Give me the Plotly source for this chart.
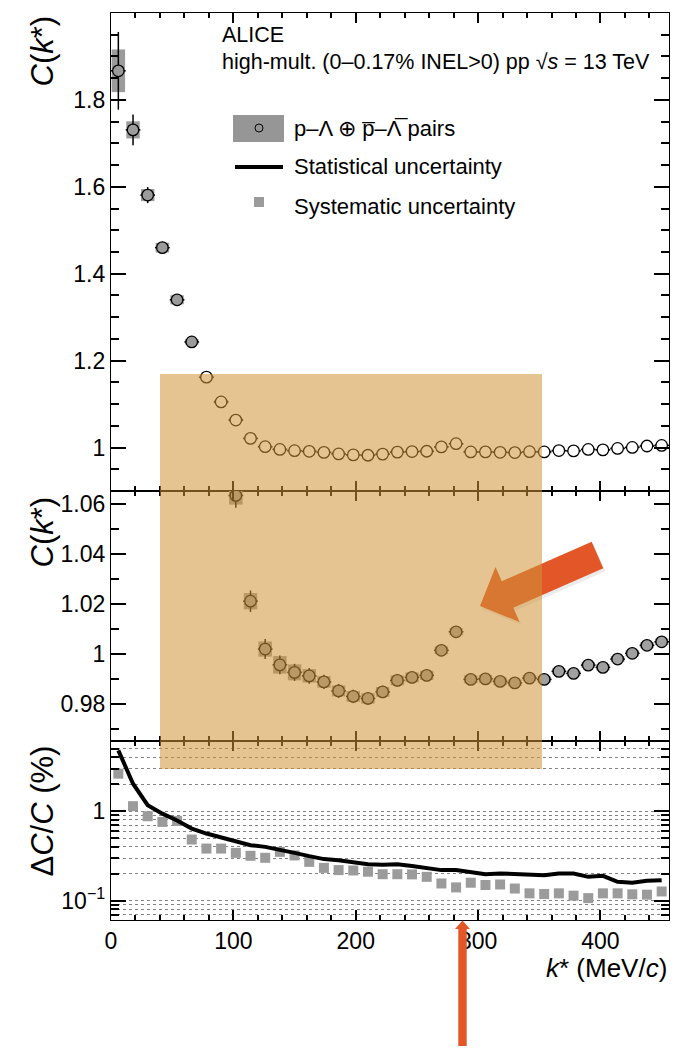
import plotly.graph_objects as go

# ---------------- data ----------------
kstar = [6, 18, 30, 42, 54, 66, 78, 90, 102, 114, 126, 138, 150, 162, 174, 186, 198, 210, 222,
         234, 246, 258, 270, 282, 294, 306, 318, 330, 342, 354, 366, 378, 390, 402, 414, 426, 438, 450]
ck = [1.867, 1.731, 1.581, 1.460, 1.340, 1.243, 1.162, 1.105, 1.0633, 1.0211, 1.0020, 0.9957,
      0.9927, 0.9913, 0.9889, 0.9853, 0.9831, 0.9823, 0.9849, 0.9895, 0.9907, 0.9915, 1.0015,
      1.0089, 0.9899, 0.9901, 0.9891, 0.9885, 0.9904, 0.9899, 0.9931, 0.9923, 0.9956, 0.9947,
      0.9980, 1.0003, 1.0035, 1.0049]
stat_pct = [4.79, 2.03, 1.17, 0.94, 0.79, 0.641, 0.564, 0.508, 0.455, 0.418, 0.400, 0.374, 0.343,
            0.315, 0.292, 0.284, 0.272, 0.256, 0.252, 0.256, 0.244, 0.230, 0.220, 0.220, 0.207,
            0.198, 0.202, 0.198, 0.197, 0.193, 0.202, 0.202, 0.185, 0.190, 0.163, 0.159, 0.167, 0.170]
syst_pct = [2.63, 1.14, 0.88, 0.76, 0.78, 0.483, 0.383, 0.383, 0.343, 0.318, 0.302, 0.352, 0.321,
            0.272, 0.233, 0.220, 0.218, 0.211, 0.198, 0.198, 0.197, 0.185, 0.156, 0.141, 0.159,
            0.150, 0.152, 0.137, 0.121, 0.119, 0.121, 0.114, 0.107, 0.121, 0.121, 0.118, 0.117, 0.127]
bin_half = 6          # half bin width (MeV/c)
box_width = 11        # width of systematic boxes (MeV/c)

stat_abs = [c * s / 100 for c, s in zip(ck, stat_pct)]
syst_abs = [c * s / 100 for c, s in zip(ck, syst_pct)]

# ---------------- geometry (screen pixels; the page body adds an 8px offset) ----------------
OFF = 8
SW, SH = 679, 1050
PL, PR, PT, PB = 111, 669, 13, 920          # plot area on screen
W, H = SW - OFF, SH - OFF
ML, MT = PL - OFF, PT - OFF
MR, MB = W - (PR - OFF), H - (PB - OFF)
PW, PH = PR - PL, PB - PT


def px(x):
    return (x - PL) / PW


def py(y):
    return (PB - y) / PH


FONT = "Liberation Sans"
GRAY = "rgb(155,155,155)"
ORANGE = "rgb(226,86,40)"

fig = go.Figure()

# ---------------- top & middle panels ----------------
for ax, fill in (("", None), ("2", "rgb(160,160,160)")):
    fig.add_trace(go.Bar(x=kstar, y=[2 * s for s in syst_abs],
                         base=[c - s for c, s in zip(ck, syst_abs)],
                         width=box_width, marker=dict(color=GRAY, line=dict(width=0)),
                         xaxis="x" + ax, yaxis="y" + ax, showlegend=False, hoverinfo="skip"))
    if fill is None:
        # open marker: the grey box shows through where it is larger than the marker
        fills = [GRAY if s > 0.0055 else "white" for s in syst_abs]
    else:
        fills = fill
    fig.add_trace(go.Scatter(x=kstar, y=ck, mode="markers",
                             marker=dict(symbol="circle", size=11.5, color=fills,
                                         line=dict(color="black", width=1.3)),
                             error_y=dict(type="data", array=stat_abs, color="black",
                                          thickness=1.5, width=0),
                             error_x=dict(type="constant", value=bin_half, color="black",
                                          thickness=1.5, width=0),
                             xaxis="x" + ax, yaxis="y" + ax, showlegend=False))

# ---------------- bottom panel ----------------
fig.add_trace(go.Scatter(x=kstar, y=syst_pct, mode="markers",
                         marker=dict(symbol="square", size=10, color=GRAY, line=dict(width=0)),
                         xaxis="x3", yaxis="y3", showlegend=False))
fig.add_trace(go.Scatter(x=kstar, y=stat_pct, mode="lines",
                         line=dict(color="black", width=4),
                         xaxis="x3", yaxis="y3", showlegend=False))

# ---------------- axes ----------------
tickfont = dict(family=FONT, size=23, color="black")
LW = 1.3
xcommon = dict(range=[0, 456], ticks="inside", ticklen=10, tickwidth=1.5, tickcolor="black",
               dtick=100, tick0=0, showline=True, linecolor="black", linewidth=LW,
               mirror="allticks", showgrid=False, zeroline=False,
               minor=dict(ticks="inside", ticklen=5, dtick=20, tickcolor="black", tickwidth=1.5),
               tickfont=tickfont)
ycommon = dict(ticks="inside", ticklen=15, tickwidth=1.5, tickcolor="black", showline=True,
               linecolor="black", linewidth=LW, mirror="allticks", showgrid=False,
               zeroline=False, tickfont=tickfont)

d_top = py(491)
d_mid = py(741)

minor_vals = [0.07, 0.08, 0.09, 0.2, 0.3, 0.4, 0.5, 0.6, 0.7, 0.8, 0.9, 2, 3, 4, 5, 6]
GRID = "rgb(130,130,130)"

fig.update_layout(
    width=W, height=H, margin=dict(l=ML, r=MR, t=MT, b=MB, autoexpand=False),
    paper_bgcolor="white", plot_bgcolor="white", barmode="overlay",
    font=dict(family=FONT, color="black"),
    xaxis=dict(anchor="y", showticklabels=False, **xcommon),
    xaxis2=dict(anchor="y2", showticklabels=False, matches="x", **xcommon),
    xaxis3=dict(anchor="y3", showticklabels=True, matches="x", **xcommon),
    yaxis=dict(domain=[d_top, 1], range=[0.9, 2.0], dtick=0.2, tick0=0,
               minor=dict(ticks="inside", ticklen=8, dtick=0.05, tickcolor="black", tickwidth=1.5),
               **ycommon),
    yaxis2=dict(domain=[d_mid, d_top], range=[0.9653, 1.0651], dtick=0.02, tick0=0,
                minor=dict(ticks="inside", ticklen=8, dtick=0.01, tickcolor="black", tickwidth=1.5),
                **ycommon),
    yaxis3=dict(domain=[0, d_mid], type="log", range=[-1.215, 0.785],
                tickmode="array", tickvals=[0.1, 1], ticktext=["10<sup>\u22121</sup>", "1"],
                ticks="inside", ticklen=15, tickwidth=1.5, tickcolor="black", showline=True,
                linecolor="black", linewidth=LW, mirror="allticks", zeroline=False,
                showgrid=True, gridcolor=GRID, griddash="dot", gridwidth=1,
                minor=dict(tickmode="array", tickvals=minor_vals, ticks="inside", ticklen=8,
                           tickcolor="black", tickwidth=1.5, showgrid=True,
                           gridcolor=GRID, griddash="dot", gridwidth=1),
                tickfont=tickfont),
)

# ---------------- texts ----------------
ann = []


def text(x, y, s, size, xanchor="left", yanchor="middle", angle=0):
    ann.append(dict(x=px(x), y=py(y), xref="paper", yref="paper", text=s, showarrow=False,
                    xanchor=xanchor, yanchor=yanchor, textangle=angle,
                    font=dict(family=FONT, size=size, color="black")))


text(42, 14, "<i>C</i>(<i>k</i>*)", 31, xanchor="center", yanchor="top", angle=-90)
text(42, 495, "<i>C</i>(<i>k</i>*)", 31, xanchor="center", yanchor="top", angle=-90)
text(42, 744, "\u0394<i>C</i>/<i>C</i> (%)", 31, xanchor="center", yanchor="top", angle=-90)
text(669, 968, "<i>k</i>* (MeV/<i>c</i>)", 26, xanchor="right")
text(220, 35, "ALICE", 21.5)
text(220, 62, "high-mult. (0\u20130.17% INEL>0) pp \u221A<i>s</i> = 13 TeV", 21.5)
text(292, 128, "p\u2013\u039B \u2295 p\u0305\u2013\u039B\u0305 pairs", 22)
text(292, 167, "Statistical uncertainty", 22)
text(292, 206, "Systematic uncertainty", 22)
fig.update_layout(annotations=ann)

# ---------------- shapes (legend symbols, highlight, arrows) ----------------
shapes = []
shapes.append(dict(type="rect", xref="paper", yref="paper", x0=px(233), x1=px(284), y0=py(115),
                   y1=py(142), fillcolor="rgb(150,150,150)", line=dict(width=0)))
shapes.append(dict(type="circle", xref="paper", yref="paper", x0=px(255), x1=px(263), y0=py(124),
                   y1=py(132), fillcolor="rgba(0,0,0,0)", line=dict(color="black", width=1)))
shapes.append(dict(type="line", xref="paper", yref="paper", x0=px(235), x1=px(283), y0=py(167),
                   y1=py(167), line=dict(color="black", width=4)))
shapes.append(dict(type="rect", xref="paper", yref="paper", x0=px(254), x1=px(264), y0=py(197),
                   y1=py(207), fillcolor=GRAY, line=dict(width=0)))


def poly(points, color):
    path = "M " + " L ".join(f"{px(x):.5f},{py(y):.5f}" for x, y in points) + " Z"
    return dict(type="path", xref="paper", yref="paper", path=path, fillcolor=color,
                line=dict(width=0), layer="above")


fat_arrow = [(480, 606), (495.5, 567), (501.7, 581.2), (591.7, 541.7), (603.3, 568.3),
             (513.3, 607.8), (519.5, 622)]
shapes.append(poly([(x + 2, y + 3) for x, y in fat_arrow], "rgba(0,0,0,0.08)"))
shapes.append(poly(fat_arrow, ORANGE))
shapes.append(dict(type="rect", xref="paper", yref="paper", x0=px(160), x1=px(542), y0=py(769),
                   y1=py(374), fillcolor="rgba(208,148,57,0.55)", line=dict(width=0),
                   layer="above"))
vert_arrow = [(462.5, 920.5), (470, 929), (466.7, 929), (466.7, 1046), (458.3, 1046),
              (458.3, 929), (455, 929)]
shapes.append(poly(vert_arrow, ORANGE))
fig.update_layout(shapes=shapes)

fig.write_html("out.html")
